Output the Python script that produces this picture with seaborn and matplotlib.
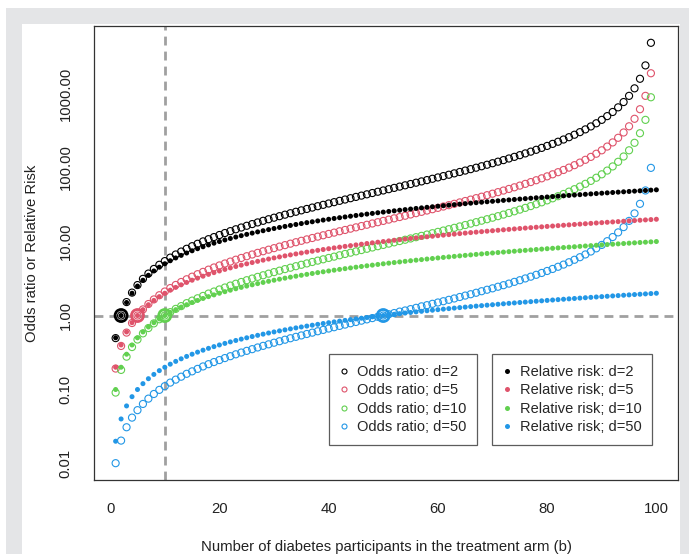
import matplotlib
matplotlib.use("Agg")
import matplotlib.pyplot as plt
from matplotlib.lines import Line2D
from matplotlib.patches import Rectangle
from matplotlib.ticker import NullLocator
import seaborn as sns

# number of diabetes participants in the treatment arm
b_counts = list(range(1, 101))
b_odds = b_counts[:99]

# odds ratios (b = 1..99)
or_d2 = [0.495, 1.0, 1.52, 2.04, 2.58, 3.13, 3.69, 4.26, 4.85, 5.44,
         6.06, 6.68, 7.32, 7.98, 8.65, 9.33, 10.04, 10.76, 11.49, 12.25,
         13.03, 13.82, 14.64, 15.47, 16.33, 17.22, 18.12, 19.06, 20.01, 21.0,
         22.01, 23.06, 24.13, 25.24, 26.38, 27.56, 28.78, 30.03, 31.33, 32.67,
         34.05, 35.48, 36.96, 38.5, 40.09, 41.74, 43.45, 45.23, 47.08, 49.0,
         51.0, 53.08, 55.26, 57.52, 59.89, 62.36, 64.95, 67.67, 70.51, 73.5,
         76.64, 79.95, 83.43, 87.11, 91.0, 95.12, 99.48, 104.1, 109.1, 114.3,
         120.0, 126.0, 132.5, 139.5, 147.0, 155.2, 164.0, 173.7, 184.3, 196.0,
         208.9, 223.2, 239.2, 257.2, 277.7, 301.0, 327.9, 359.3, 396.5, 441.0,
         495.4, 563.5, 651.0, 767.7, 931.0, 1176.0, 1584.0, 2401.0, 4851.0]
or_d5 = [0.192, 0.388, 0.588, 0.792, 1.0, 1.21, 1.43, 1.65, 1.88, 2.11,
         2.35, 2.59, 2.84, 3.09, 3.35, 3.62, 3.89, 4.17, 4.46, 4.75,
         5.05, 5.36, 5.68, 6.0, 6.33, 6.68, 7.03, 7.39, 7.76, 8.14,
         8.54, 8.94, 9.36, 9.79, 10.23, 10.69, 11.16, 11.65, 12.15, 12.67,
         13.2, 13.76, 14.33, 14.93, 15.55, 16.19, 16.85, 17.54, 18.25, 19.0,
         19.78, 20.58, 21.43, 22.3, 23.22, 24.18, 25.19, 26.24, 27.34, 28.5,
         29.72, 31.0, 32.35, 33.78, 35.29, 36.88, 38.58, 40.38, 42.29, 44.33,
         46.52, 48.86, 51.37, 54.08, 57.0, 60.17, 63.61, 67.36, 71.48, 76.0,
         81.0, 86.56, 92.76, 99.75, 107.7, 116.7, 127.2, 139.3, 153.7, 171.0,
         192.1, 218.5, 252.4, 297.7, 361.0, 456.0, 614.3, 931.0, 1881.0]
or_d10 = [0.0909, 0.184, 0.278, 0.375, 0.474, 0.574, 0.677, 0.783, 0.89, 1.0,
          1.11, 1.23, 1.34, 1.47, 1.59, 1.71, 1.84, 1.98, 2.11, 2.25,
          2.39, 2.54, 2.69, 2.84, 3.0, 3.16, 3.33, 3.5, 3.68, 3.86,
          4.04, 4.24, 4.43, 4.64, 4.85, 5.06, 5.29, 5.52, 5.75, 6.0,
          6.25, 6.52, 6.79, 7.07, 7.36, 7.67, 7.98, 8.31, 8.65, 9.0,
          9.37, 9.75, 10.15, 10.57, 11.0, 11.45, 11.93, 12.43, 12.95, 13.5,
          14.08, 14.68, 15.32, 16.0, 16.71, 17.47, 18.27, 19.13, 20.03, 21.0,
          22.03, 23.14, 24.33, 25.62, 27.0, 28.5, 30.13, 31.91, 33.86, 36.0,
          38.37, 41.0, 43.94, 47.25, 51.0, 55.29, 60.23, 66.0, 72.82, 81.0,
          91.0, 103.5, 119.6, 141.0, 171.0, 216.0, 291.0, 441.0, 891.0]
or_d50 = [0.0101, 0.0204, 0.0309, 0.0417, 0.0526, 0.0638, 0.0753, 0.087, 0.0989, 0.111,
          0.124, 0.136, 0.149, 0.163, 0.176, 0.19, 0.205, 0.22, 0.235, 0.25,
          0.266, 0.282, 0.299, 0.316, 0.333, 0.351, 0.37, 0.389, 0.408, 0.429,
          0.449, 0.471, 0.493, 0.515, 0.538, 0.563, 0.587, 0.613, 0.639, 0.667,
          0.695, 0.724, 0.754, 0.786, 0.818, 0.852, 0.887, 0.923, 0.961, 1.0,
          1.04, 1.08, 1.13, 1.17, 1.22, 1.27, 1.33, 1.38, 1.44, 1.5,
          1.56, 1.63, 1.7, 1.78, 1.86, 1.94, 2.03, 2.13, 2.23, 2.33,
          2.45, 2.57, 2.7, 2.85, 3.0, 3.17, 3.35, 3.55, 3.76, 4.0,
          4.26, 4.56, 4.88, 5.25, 5.67, 6.14, 6.69, 7.33, 8.09, 9.0,
          10.11, 11.5, 13.29, 15.67, 19.0, 24.0, 32.33, 49.0, 99.0]

# relative risks (b = 1..100)
rr_d2 = [0.5, 1.0, 1.5, 2.0, 2.5, 3.0, 3.5, 4.0, 4.5, 5.0,
         5.5, 6.0, 6.5, 7.0, 7.5, 8.0, 8.5, 9.0, 9.5, 10.0,
         10.5, 11.0, 11.5, 12.0, 12.5, 13.0, 13.5, 14.0, 14.5, 15.0,
         15.5, 16.0, 16.5, 17.0, 17.5, 18.0, 18.5, 19.0, 19.5, 20.0,
         20.5, 21.0, 21.5, 22.0, 22.5, 23.0, 23.5, 24.0, 24.5, 25.0,
         25.5, 26.0, 26.5, 27.0, 27.5, 28.0, 28.5, 29.0, 29.5, 30.0,
         30.5, 31.0, 31.5, 32.0, 32.5, 33.0, 33.5, 34.0, 34.5, 35.0,
         35.5, 36.0, 36.5, 37.0, 37.5, 38.0, 38.5, 39.0, 39.5, 40.0,
         40.5, 41.0, 41.5, 42.0, 42.5, 43.0, 43.5, 44.0, 44.5, 45.0,
         45.5, 46.0, 46.5, 47.0, 47.5, 48.0, 48.5, 49.0, 49.5, 50.0]
rr_d5 = [0.2, 0.4, 0.6, 0.8, 1.0, 1.2, 1.4, 1.6, 1.8, 2.0,
         2.2, 2.4, 2.6, 2.8, 3.0, 3.2, 3.4, 3.6, 3.8, 4.0,
         4.2, 4.4, 4.6, 4.8, 5.0, 5.2, 5.4, 5.6, 5.8, 6.0,
         6.2, 6.4, 6.6, 6.8, 7.0, 7.2, 7.4, 7.6, 7.8, 8.0,
         8.2, 8.4, 8.6, 8.8, 9.0, 9.2, 9.4, 9.6, 9.8, 10.0,
         10.2, 10.4, 10.6, 10.8, 11.0, 11.2, 11.4, 11.6, 11.8, 12.0,
         12.2, 12.4, 12.6, 12.8, 13.0, 13.2, 13.4, 13.6, 13.8, 14.0,
         14.2, 14.4, 14.6, 14.8, 15.0, 15.2, 15.4, 15.6, 15.8, 16.0,
         16.2, 16.4, 16.6, 16.8, 17.0, 17.2, 17.4, 17.6, 17.8, 18.0,
         18.2, 18.4, 18.6, 18.8, 19.0, 19.2, 19.4, 19.6, 19.8, 20.0]
rr_d10 = [0.1, 0.2, 0.3, 0.4, 0.5, 0.6, 0.7, 0.8, 0.9, 1.0,
          1.1, 1.2, 1.3, 1.4, 1.5, 1.6, 1.7, 1.8, 1.9, 2.0,
          2.1, 2.2, 2.3, 2.4, 2.5, 2.6, 2.7, 2.8, 2.9, 3.0,
          3.1, 3.2, 3.3, 3.4, 3.5, 3.6, 3.7, 3.8, 3.9, 4.0,
          4.1, 4.2, 4.3, 4.4, 4.5, 4.6, 4.7, 4.8, 4.9, 5.0,
          5.1, 5.2, 5.3, 5.4, 5.5, 5.6, 5.7, 5.8, 5.9, 6.0,
          6.1, 6.2, 6.3, 6.4, 6.5, 6.6, 6.7, 6.8, 6.9, 7.0,
          7.1, 7.2, 7.3, 7.4, 7.5, 7.6, 7.7, 7.8, 7.9, 8.0,
          8.1, 8.2, 8.3, 8.4, 8.5, 8.6, 8.7, 8.8, 8.9, 9.0,
          9.1, 9.2, 9.3, 9.4, 9.5, 9.6, 9.7, 9.8, 9.9, 10.0]
rr_d50 = [0.02, 0.04, 0.06, 0.08, 0.10, 0.12, 0.14, 0.16, 0.18, 0.20,
          0.22, 0.24, 0.26, 0.28, 0.30, 0.32, 0.34, 0.36, 0.38, 0.40,
          0.42, 0.44, 0.46, 0.48, 0.50, 0.52, 0.54, 0.56, 0.58, 0.60,
          0.62, 0.64, 0.66, 0.68, 0.70, 0.72, 0.74, 0.76, 0.78, 0.80,
          0.82, 0.84, 0.86, 0.88, 0.90, 0.92, 0.94, 0.96, 0.98, 1.00,
          1.02, 1.04, 1.06, 1.08, 1.10, 1.12, 1.14, 1.16, 1.18, 1.20,
          1.22, 1.24, 1.26, 1.28, 1.30, 1.32, 1.34, 1.36, 1.38, 1.40,
          1.42, 1.44, 1.46, 1.48, 1.50, 1.52, 1.54, 1.56, 1.58, 1.60,
          1.62, 1.64, 1.66, 1.68, 1.70, 1.72, 1.74, 1.76, 1.78, 1.80,
          1.82, 1.84, 1.86, 1.88, 1.90, 1.92, 1.94, 1.96, 1.98, 2.00]

# control-arm counts (d), highlighted where b = d (ratio 1)
d_values = [2, 5, 10, 50]
d_ratio = [1, 1, 1, 1]

colors = ['#000000', '#DF536B', '#61D04F', '#2297E6']
or_labels = ['Odds ratio: d=2', 'Odds ratio; d=5', 'Odds ratio; d=10', 'Odds ratio; d=50']
rr_labels = ['Relative risk: d=2', 'Relative risk; d=5', 'Relative risk; d=10', 'Relative risk; d=50']

sns.set_style("white")
plt.rcParams['font.family'] = ['Liberation Sans', 'DejaVu Sans']

fig = plt.figure(figsize=(6.89, 5.54), dpi=100)
fig.add_artist(Rectangle((6 / 689, 0), 683 / 689, 546 / 554, transform=fig.transFigure,
                         facecolor='#e4e5e7', edgecolor='none', zorder=-2))
fig.add_artist(Rectangle((22 / 689, 0), 658 / 689, 530 / 554, transform=fig.transFigure,
                         facecolor='white', edgecolor='none', zorder=-1))

ax = fig.add_axes([94 / 689, 74 / 554, 584 / 689, 454 / 554])
ax.set_facecolor('white')

ax.axvline(10, color='#a0a0a0', lw=2, dashes=(3.2, 2.2), zorder=1)
ax.axhline(1, color='#a0a0a0', lw=2, dashes=(3.2, 2.2), zorder=1)

for vals, col in zip([or_d2, or_d5, or_d10, or_d50], colors):
    sns.scatterplot(x=b_odds, y=vals, ax=ax, s=26, facecolor='none',
                    edgecolor=col, linewidth=0.8, zorder=3)
for vals, col in zip([rr_d2, rr_d5, rr_d10, rr_d50], colors):
    sns.scatterplot(x=b_counts, y=vals, ax=ax, s=13, color=col,
                    edgecolor='none', linewidth=0, zorder=3)
for dv, rv, col in zip(d_values, d_ratio, colors):
    sns.scatterplot(x=[dv], y=[rv], ax=ax, s=75, facecolor='none',
                    edgecolor=col, linewidth=2.0, zorder=4)

ax.set_yscale('log')
ax.set_xlim(-2.96, 103.96)
ax.set_ylim(10 ** -2.223, 10 ** 3.913)
ax.set_xticks([0, 20, 40, 60, 80, 100])
ax.set_xticklabels(['0', '20', '40', '60', '80', '100'])
ax.set_yticks([0.01, 0.1, 1, 10, 100, 1000])
ax.set_yticklabels(['0.01', '0.10', '1.00', '10.00', '100.00', '1000.00'],
                   rotation=90, va='center')
ax.yaxis.set_minor_locator(NullLocator())
ax.tick_params(axis='both', direction='out', length=6.5, width=0.9, pad=9,
               labelsize=10.7, color='#333333', labelcolor='#222222')
for sp in ax.spines.values():
    sp.set_color('#333333')
    sp.set_linewidth(0.9)

ax.set_xlabel('Number of diabetes participants in the treatment arm (b)', fontsize=10.7, color='#222222')
ax.set_ylabel('Odds ratio or Relative Risk', fontsize=10.7, color='#222222')
ax.xaxis.set_label_coords(0.5, -0.132)
ax.yaxis.set_label_coords(-0.106, 0.5)
ax.yaxis.label.set_va('center')

h_or = [Line2D([], [], ls='none', marker='o', markersize=3.6, markerfacecolor='none',
               markeredgecolor=c, markeredgewidth=0.8) for c in colors]
h_rr = [Line2D([], [], ls='none', marker='o', markersize=3.6, markerfacecolor=c,
               markeredgecolor='none') for c in colors]
leg_kw = dict(loc='upper left', frameon=True, fancybox=False, edgecolor='#333333',
              fontsize=10.5, handlelength=0.6, handletextpad=0.55, borderpad=0.75,
              labelspacing=0.3, borderaxespad=0)
leg1 = ax.legend(h_or, or_labels, bbox_to_anchor=(0.4024, 0.2775), **leg_kw)
leg1.get_frame().set_linewidth(0.9)
ax.add_artist(leg1)
leg2 = ax.legend(h_rr, rr_labels, bbox_to_anchor=(0.6815, 0.2775), **leg_kw)
leg2.get_frame().set_linewidth(0.9)

fig.savefig('out.png', dpi=100)
